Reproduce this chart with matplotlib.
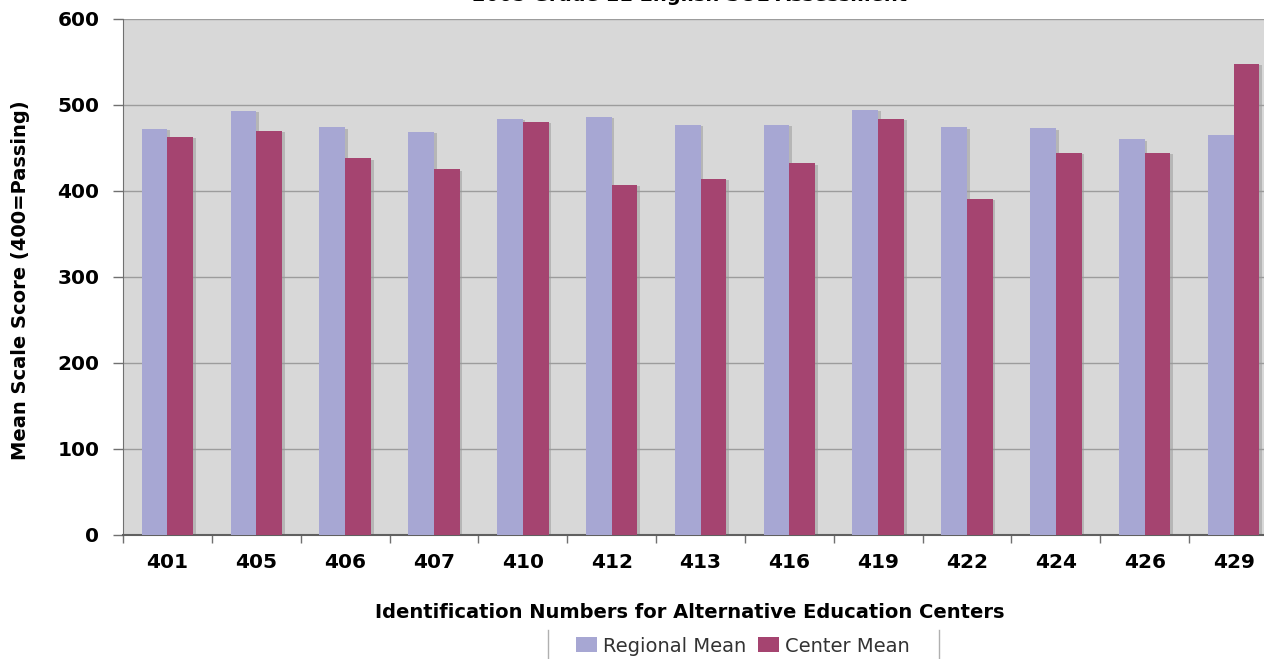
import matplotlib
matplotlib.use("Agg")
import matplotlib.pyplot as plt
from matplotlib.patches import Patch
from matplotlib.lines import Line2D
import numpy as np

categories = ["401", "405", "406", "407", "410", "412", "413", "416", "419", "422", "424", "426", "429"]
regional_mean = [472, 493, 474, 469, 484, 486, 477, 477, 494, 474, 473, 460, 465]
center_mean = [463, 470, 438, 425, 480, 407, 414, 432, 484, 391, 444, 444, 548]
yticks = [0, 100, 200, 300, 400, 500, 600]

REG_COLOR = "#a7a7d3"
CEN_COLOR = "#a54470"
BG = "#d8d8d8"

W, H = 1264, 659
fig = plt.figure(figsize=(W / 100, H / 100), dpi=100)
fig.patch.set_facecolor("white")

ax = fig.add_axes([123 / W, 1 - 535 / H, (1278 - 123) / W, (535 - 19) / H])
ax.set_facecolor(BG)

x = np.arange(len(categories))
bw = 0.29
# soft shadows
ax.bar(x - bw / 2 + 0.03, np.array(regional_mean) - 1.5, bw, color="#9a9a9a", alpha=0.55, zorder=2, linewidth=0)
ax.bar(x + bw / 2 + 0.03, np.array(center_mean) - 1.5, bw, color="#9a9a9a", alpha=0.55, zorder=2, linewidth=0)
ax.bar(x - bw / 2, regional_mean, bw, color=REG_COLOR, zorder=3, linewidth=0)
ax.bar(x + bw / 2, center_mean, bw, color=CEN_COLOR, zorder=3, linewidth=0)

ax.set_xlim(-0.5, len(categories) - 0.5)
ax.set_ylim(0, 600)
ax.set_yticks(yticks)
ax.set_yticklabels([str(t) for t in yticks], fontsize=14.5, fontweight="bold")
ax.yaxis.grid(True, color="#9c9c9c", linewidth=1.0, zorder=1)
ax.set_axisbelow(True)

ax.set_xticks(x)
ax.set_xticklabels(categories, fontsize=14.5, fontweight="bold")
ax.tick_params(axis="x", length=0, pad=13)
ax.set_xticks(np.arange(len(categories) + 1) - 0.5, minor=True)
ax.tick_params(axis="x", which="minor", length=6, color="#707070", width=1)
ax.tick_params(axis="y", length=7, color="#707070", width=1, pad=10)

for s in ["top", "right"]:
    ax.spines[s].set_visible(False)
ax.spines["left"].set_color("#707070")
ax.spines["bottom"].set_color("#606060")
ax.spines["bottom"].set_linewidth(1.5)

fig.text(21 / W, 1 - 280 / H, "Mean Scale Score (400=Passing)", rotation=90,
         ha="center", va="center", fontsize=14, fontweight="bold")

fig.text(690 / W, 1 - 612 / H, "Identification Numbers for Alternative Education Centers",
         ha="center", va="center", fontsize=14, fontweight="bold")

fig.text(690 / W, 1 - 1.2 / H, "2005 Grade 11 English SOL Assessment",
         ha="center", va="baseline", fontsize=14, fontweight="bold")

handles = [Patch(facecolor=REG_COLOR, edgecolor="none", label="Regional Mean"),
           Patch(facecolor=CEN_COLOR, edgecolor="none", label="Center Mean")]
leg = fig.legend(handles=handles, loc="center", bbox_to_anchor=(743 / W, 1 - 646 / H),
                 ncol=2, frameon=False, fontsize=14, handlelength=1.1, handleheight=0.8,
                 handletextpad=0.3, columnspacing=0.6, labelcolor="#333333",
                 borderpad=0, borderaxespad=0)
fig.lines.append(Line2D([548 / W, 548 / W], [1 - 630 / H, 1 - 659 / H], transform=fig.transFigure,
                        color="#b0b0b0", linewidth=1))
fig.lines.append(Line2D([939 / W, 939 / W], [1 - 630 / H, 1 - 659 / H], transform=fig.transFigure,
                        color="#b0b0b0", linewidth=1))

fig.savefig("out.png", dpi=100)
